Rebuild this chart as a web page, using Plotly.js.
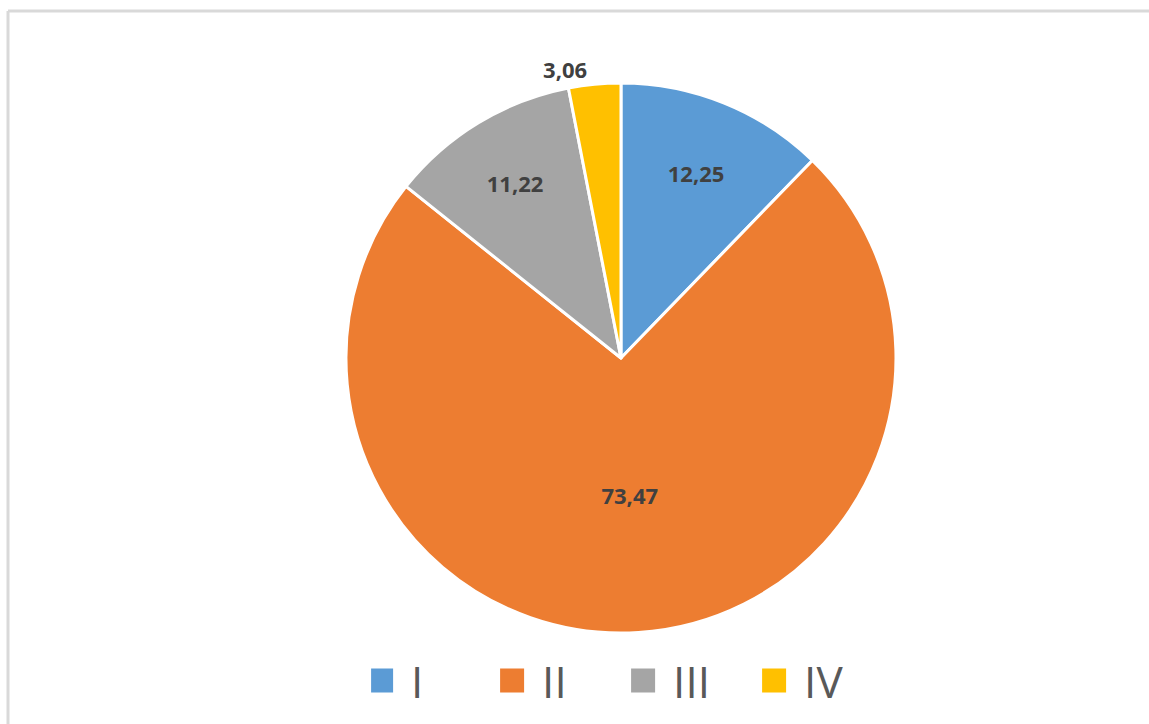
<!DOCTYPE html>
<html>
<head>
<meta charset="utf-8">
<script src="https://cdn.plot.ly/plotly-3.0.1.min.js"></script>
<style>
  html, body { margin: 0; padding: 0; background: #ffffff; }
  #chart { width: 1149px; height: 724px; }
</style>
</head>
<body>
<div id="chart"></div>
<script>
const categories = ['I', 'II', 'III', 'IV'];
const values = [12.25, 73.47, 11.22, 3.06];
const colors = ['#5B9BD5', '#ED7D31', '#A5A5A5', '#FFC000'];
const textPositions = ['inside', 'inside', 'inside', 'outside'];

const W = 1149, H = 724;

const trace = {
  type: 'pie',
  labels: categories,
  values: values,
  sort: false,
  direction: 'clockwise',
  rotation: 0,
  marker: { colors: colors, line: { color: '#ffffff', width: 3 } },
  texttemplate: '%{value:.2f}',
  textposition: textPositions,
  insidetextorientation: 'horizontal',
  textfont: { family: 'Open Sans, Arial, sans-serif', size: 22, color: '#404040', weight: 'bold' },
  outsidetextfont: { family: 'Open Sans, Arial, sans-serif', size: 22, color: '#404040', weight: 'bold' },
  hoverinfo: 'label+value',
  domain: { x: [0.3011, 0.7798], y: [0.1257, 0.8854] },
  automargin: false
};

const layout = {
  width: W, height: H,
  margin: { l: 0, r: 0, t: 0, b: 0 },
  paper_bgcolor: '#ffffff',
  separators: ', ',
  showlegend: true,
  legend: {
    orientation: 'h',
    x: 0.551, xanchor: 'center',
    y: 0.0594, yanchor: 'middle',
    entrywidth: 86,
    entrywidthmode: 'pixels',
    font: { family: 'Open Sans, Arial, sans-serif', size: 44, color: '#595959', weight: 400 },
    itemclick: false
  },
  shapes: [
    { type: 'line', xref: 'paper', yref: 'paper', x0: 8 / W, x1: 8 / W, y0: 0, y1: 1 - 11 / H, line: { color: '#d9d9d9', width: 3 } },
    { type: 'line', xref: 'paper', yref: 'paper', x0: 8 / W, x1: 1, y0: 1 - 11 / H, y1: 1 - 11 / H, line: { color: '#d9d9d9', width: 3 } }
  ]
};

Plotly.newPlot('chart', [trace], layout, { displayModeBar: false, staticPlot: true }).then(function (gd) {
  // enlarge the legend swatches to match the reference's larger squares
  gd.querySelectorAll('.legendpoints path').forEach(function (p) {
    const t = p.getAttribute('transform') || '';
    p.setAttribute('transform', 'translate(-10,0) ' + t + ' scale(2)');
    p.style.strokeWidth = '0';
  });
});
</script>
</body>
</html>
